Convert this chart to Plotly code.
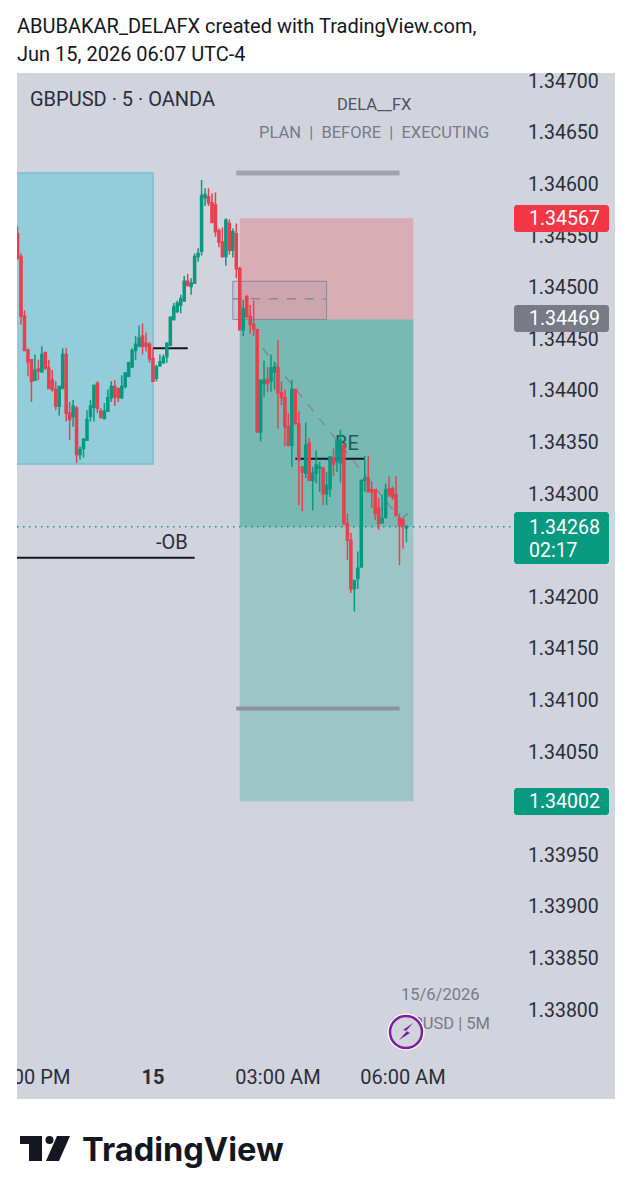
import pandas as pd
import plotly.graph_objects as go

# GBPUSD 5 minute candles, session of 14-15 June 2026
times = pd.date_range("2026-06-14 20:45", periods=113, freq="5min")

opens = [
    1.34552, 1.34530, 1.34472, 1.34439, 1.34430, 1.34410, 1.34421, 1.34418, 1.34437, 1.34422,
    1.34410, 1.34401, 1.34385, 1.34402, 1.34435, 1.34378, 1.34375, 1.34383, 1.34338, 1.34344,
    1.34352, 1.34375, 1.34384, 1.34407, 1.34380, 1.34373, 1.34380, 1.34393, 1.34404, 1.34402,
    1.34393, 1.34404, 1.34414, 1.34423, 1.34439, 1.34443, 1.34453, 1.34446, 1.34445, 1.34431,
    1.34412, 1.34424, 1.34427, 1.34433, 1.34444, 1.34469, 1.34477, 1.34483, 1.34487, 1.34506,
    1.34501, 1.34504, 1.34530, 1.34535, 1.34587, 1.34588, 1.34582, 1.34580, 1.34555, 1.34544,
    1.34530, 1.34562, 1.34536, 1.34552, 1.34518, 1.34459, 1.34491, 1.34472, 1.34464, 1.34459,
    1.34360, 1.34407, 1.34411, 1.34409, 1.34418, 1.34422, 1.34398, 1.34393, 1.34365, 1.34347,
    1.34401, 1.34368, 1.34326, 1.34320, 1.34349, 1.34313, 1.34320, 1.34325, 1.34325, 1.34300,
    1.34305, 1.34334, 1.34331, 1.34330, 1.34347, 1.34271, 1.34255, 1.34208, 1.34218, 1.34229,
    1.34313, 1.34315, 1.34304, 1.34304, 1.34286, 1.34272, 1.34277, 1.34305, 1.34305, 1.34299,
    1.34276, 1.34275, 1.34267,
]
highs = [
    1.34559, 1.34533, 1.34478, 1.34441, 1.34430, 1.34435, 1.34430, 1.34443, 1.34437, 1.34430,
    1.34420, 1.34409, 1.34405, 1.34441, 1.34441, 1.34389, 1.34391, 1.34385, 1.34346, 1.34354,
    1.34381, 1.34391, 1.34406, 1.34409, 1.34383, 1.34388, 1.34401, 1.34409, 1.34410, 1.34402,
    1.34415, 1.34418, 1.34428, 1.34441, 1.34453, 1.34463, 1.34465, 1.34456, 1.34447, 1.34441,
    1.34425, 1.34435, 1.34435, 1.34447, 1.34472, 1.34485, 1.34487, 1.34493, 1.34511, 1.34513,
    1.34509, 1.34533, 1.34538, 1.34604, 1.34596, 1.34596, 1.34591, 1.34592, 1.34557, 1.34558,
    1.34567, 1.34566, 1.34557, 1.34562, 1.34520, 1.34488, 1.34493, 1.34483, 1.34487, 1.34460,
    1.34410, 1.34429, 1.34423, 1.34435, 1.34428, 1.34449, 1.34409, 1.34401, 1.34378, 1.34410,
    1.34401, 1.34380, 1.34326, 1.34369, 1.34354, 1.34326, 1.34342, 1.34331, 1.34326, 1.34321,
    1.34336, 1.34344, 1.34352, 1.34362, 1.34349, 1.34281, 1.34262, 1.34216, 1.34244, 1.34314,
    1.34337, 1.34337, 1.34312, 1.34304, 1.34296, 1.34299, 1.34310, 1.34317, 1.34307, 1.34317,
    1.34281, 1.34276, 1.34270,
]
lows = [
    1.34527, 1.34464, 1.34439, 1.34414, 1.34389, 1.34410, 1.34410, 1.34418, 1.34420, 1.34402,
    1.34399, 1.34381, 1.34376, 1.34402, 1.34370, 1.34352, 1.34365, 1.34330, 1.34333, 1.34335,
    1.34352, 1.34370, 1.34370, 1.34378, 1.34373, 1.34372, 1.34380, 1.34389, 1.34385, 1.34389,
    1.34392, 1.34402, 1.34413, 1.34422, 1.34430, 1.34443, 1.34435, 1.34438, 1.34427, 1.34409,
    1.34409, 1.34423, 1.34426, 1.34427, 1.34444, 1.34468, 1.34475, 1.34475, 1.34486, 1.34501,
    1.34493, 1.34504, 1.34525, 1.34531, 1.34579, 1.34579, 1.34563, 1.34549, 1.34539, 1.34529,
    1.34521, 1.34532, 1.34529, 1.34509, 1.34459, 1.34453, 1.34470, 1.34455, 1.34453, 1.34359,
    1.34351, 1.34394, 1.34399, 1.34399, 1.34401, 1.34363, 1.34386, 1.34346, 1.34346, 1.34326,
    1.34368, 1.34289, 1.34283, 1.34315, 1.34313, 1.34284, 1.34310, 1.34302, 1.34289, 1.34289,
    1.34297, 1.34317, 1.34321, 1.34311, 1.34270, 1.34236, 1.34204, 1.34186, 1.34208, 1.34229,
    1.34302, 1.34302, 1.34286, 1.34275, 1.34265, 1.34271, 1.34276, 1.34297, 1.34294, 1.34278,
    1.34231, 1.34247, 1.34253,
]
closes = [
    1.34528, 1.34472, 1.34439, 1.34428, 1.34409, 1.34420, 1.34419, 1.34435, 1.34422, 1.34402,
    1.34401, 1.34385, 1.34404, 1.34435, 1.34378, 1.34372, 1.34385, 1.34338, 1.34343, 1.34353,
    1.34372, 1.34385, 1.34405, 1.34383, 1.34374, 1.34380, 1.34393, 1.34404, 1.34394, 1.34393,
    1.34404, 1.34417, 1.34427, 1.34439, 1.34445, 1.34451, 1.34443, 1.34443, 1.34431, 1.34409,
    1.34423, 1.34428, 1.34432, 1.34446, 1.34471, 1.34481, 1.34485, 1.34489, 1.34506, 1.34502,
    1.34504, 1.34530, 1.34533, 1.34589, 1.34590, 1.34582, 1.34563, 1.34554, 1.34544, 1.34530,
    1.34565, 1.34536, 1.34554, 1.34518, 1.34459, 1.34479, 1.34472, 1.34464, 1.34460, 1.34360,
    1.34410, 1.34410, 1.34407, 1.34422, 1.34423, 1.34398, 1.34393, 1.34365, 1.34347, 1.34401,
    1.34368, 1.34333, 1.34321, 1.34347, 1.34313, 1.34320, 1.34328, 1.34326, 1.34300, 1.34308,
    1.34336, 1.34329, 1.34352, 1.34352, 1.34271, 1.34255, 1.34208, 1.34216, 1.34228, 1.34313,
    1.34315, 1.34302, 1.34302, 1.34281, 1.34271, 1.34276, 1.34304, 1.34299, 1.34297, 1.34279,
    1.34269, 1.34269, 1.34268,
]

# Time axis labels
time_ticks = ["2026-06-14 21:00", "2026-06-15 00:00", "2026-06-15 03:00", "2026-06-15 06:00"]
time_labels = ["09:00 PM", "<b>15</b>", "03:00 AM", "06:00 AM"]

# Key price levels of the short position
last_price = 1.34268
stop_price = 1.34567
entry_price = 1.34469
target_price = 1.34002

# Page layout in pixels
W, H = 632, 1199
PLOT_L, PLOT_R, PLOT_T, PLOT_B = 17, 514, 73, 1055
FRAME_R, FRAME_B = 615, 1099
BG = "#d1d4dc"
RED = "#e8404f"
GREEN = "#089981"
FONT = "Roboto"


def px(x):
    return (x - PLOT_L) / (PLOT_R - PLOT_L)


def py(y):
    return (PLOT_B - y) / (PLOT_B - PLOT_T)


def pixel_path(points, close=True):
    cmds = [f"{'M' if i == 0 else 'L'}{px(x):.5f},{py(y):.5f}" for i, (x, y) in enumerate(points)]
    return " ".join(cmds) + (" Z" if close else "")


def data_rect(x0, x1, y0, y1, fill, line_color=None, line_width=0, layer="below"):
    return dict(type="rect", xref="x", yref="y", x0=x0, x1=x1, y0=y0, y1=y1, fillcolor=fill,
                line=dict(color=line_color or "rgba(0,0,0,0)", width=line_width), layer=layer)


def data_line(x0, x1, y0, y1, color, width, dash="solid", layer="below"):
    return dict(type="line", xref="x", yref="y", x0=x0, x1=x1, y0=y0, y1=y1,
                line=dict(color=color, width=width, dash=dash), layer=layer)


def pixel_rect(x0, x1, y0, y1, fill, layer="above"):
    return dict(type="rect", xref="paper", yref="paper", x0=px(x0), x1=px(x1), y0=py(y0), y1=py(y1),
                fillcolor=fill, line=dict(width=0), layer=layer)


def price_tag(y0, y1, fill):
    r = 2
    x0, x1 = 514, 609
    points = [(x0 + r, y0), (x1 - r, y0), (x1, y0 + r), (x1, y1 - r), (x1 - r, y1), (x0 + r, y1),
              (x0, y1 - r), (x0, y0 + r)]
    return dict(type="path", xref="paper", yref="paper", path=pixel_path(points), fillcolor=fill,
                line=dict(width=0), layer="above")


def text(x, y, s, size, color, anchor="left", weight=None, family=FONT):
    return dict(xref="paper", yref="paper", x=px(x), y=py(y), text=s, showarrow=False, xanchor=anchor,
                yanchor="middle", align=anchor, borderpad=0,
                font=dict(family=family, size=size, color=color, weight=weight))


d = "2026-06-15 "
shapes = [
    # Chart frame
    pixel_rect(17, FRAME_R, 73, FRAME_B, BG, layer="below"),
    # Order block zone
    data_rect("2026-06-14 19:00", "2026-06-15 00:00", 1.34329, 1.34611, "#94cdda", "#85c3d2", 2),
    # Short position: stop, target and the filled part of the target
    data_rect(d + "02:05", d + "06:15", entry_price, stop_price, "rgba(242,54,69,0.25)"),
    data_rect(d + "02:05", d + "06:15", target_price, entry_price, "rgba(8,153,129,0.25)"),
    data_rect(d + "02:05", d + "06:15", last_price, entry_price, "rgba(8,153,129,0.25)"),
    # Range bars above and below the position
    data_line(d + "02:00", d + "05:55", 1.34611, 1.34611, "#a0a3ad", 5),
    data_line(d + "02:00", d + "05:55", 1.34092, 1.34092, "#8f929c", 4),
    # Retest box with its midline
    data_rect(d + "01:55", d + "04:10", 1.34469, 1.34506, "rgba(120,123,134,0.14)", "#888b95", 1),
    data_line(d + "01:55", d + "04:10", 1.34489, 1.34489, "#888b95", 1.5, "dash"),
    # Projected path
    data_line(d + "02:38", d + "05:57", 1.34441, 1.34275, "#7f8a8e", 1.5, "dash"),
    data_line(d + "05:57", d + "06:07", 1.34275, 1.34281, "#7f8a8e", 1.5, "dash"),
    # Last price line
    dict(type="line", xref="paper", yref="y", x0=0, x1=1, y0=last_price, y1=last_price,
         line=dict(color=GREEN, width=1.5, dash="1.5px,4.5px"), layer="below"),
    # Structure levels
    data_line(d + "00:00", d + "00:50", 1.34441, 1.34441, "#131722", 2),
    data_line("2026-06-14 19:00", d + "01:00", 1.34238, 1.34238, "#131722", 2),
    data_line(d + "03:25", d + "05:05", 1.34334, 1.34334, "#131722", 2),
    # The BE text sits behind the candles
    dict(type="rect", xref="paper", yref="paper", x0=px(322), x1=px(372), y0=py(431), y1=py(453),
         line=dict(width=0), fillcolor="rgba(0,0,0,0)", layer="below",
         label=dict(text="BE", font=dict(family=FONT, size=20, color="#2a2e39"),
                    textposition="middle center")),
    # Strip left of the frame keeps the clipped time label tidy
    pixel_rect(0, 17, 1058, 1096, "#ffffff"),
    # Price tags
    price_tag(205, 232, "#f23645"),
    price_tag(305, 332, "#787b86"),
    price_tag(512, 564, GREEN),
    price_tag(788, 815, GREEN),
    # Caption tucked under the badge
    dict(type="rect", xref="paper", yref="paper", x0=px(386), x1=px(496), y0=py(1011), y1=py(1033),
         line=dict(width=0), fillcolor="rgba(0,0,0,0)", layer="above",
         label=dict(text="GBPUSD | 5M", font=dict(family=FONT, size=16.5, color="#787b86"),
                    textposition="middle right")),
    # Badge
    dict(type="circle", xref="paper", yref="paper", x0=px(387.5), x1=px(424.5), y0=py(1013.5),
         y1=py(1050.5), fillcolor="#ffffff", line=dict(width=0), layer="above"),
    dict(type="circle", xref="paper", yref="paper", x0=px(390), x1=px(422), y0=py(1016), y1=py(1048),
         fillcolor=BG, line=dict(color="#7b1fa2", width=2.5), layer="above"),
    dict(type="path", xref="paper", yref="paper", layer="above", fillcolor="#7b1fa2", line=dict(width=0),
         path=pixel_path([(413, 1023), (403, 1030), (407, 1031), (399, 1040), (410, 1033), (406, 1031)])),
    # Footer mark
    dict(type="path", xref="paper", yref="paper", layer="above", fillcolor="#131722", line=dict(width=0),
         path=pixel_path([(20, 1136), (42, 1136), (42, 1161), (29, 1161), (29, 1144), (20, 1144)])),
    dict(type="circle", xref="paper", yref="paper", x0=px(45.5), x1=px(53.5), y0=py(1136), y1=py(1144),
         fillcolor="#131722", line=dict(width=0), layer="above"),
    dict(type="path", xref="paper", yref="paper", layer="above", fillcolor="#131722", line=dict(width=0),
         path=pixel_path([(57, 1136), (70, 1136), (59, 1161), (46, 1161)])),
]

annotations = [
    text(16, 26, "ABUBAKAR_DELAFX created with TradingView.com,", 20, "#131722"),
    text(16, 54, "Jun 15, 2026 06:07 UTC-4", 20, "#131722"),
    text(29, 99, "GBPUSD · 5 · OANDA", 20, "#2a2e39"),
    text(374, 104, "DELA__FX", 16.5, "#50535e", "center"),
    text(374, 132, "PLAN  |  BEFORE  |  EXECUTING", 16.5, "#787b86", "center"),
    text(171.5, 542, "-OB", 20, "#2a2e39", "center"),
    text(440, 994, "15/6/2026", 16.5, "#787b86", "center"),
    text(528, 218.5, f"{stop_price:.5f}", 19.5, "#ffffff"),
    text(528, 318.5, f"{entry_price:.5f}", 19.5, "#ffffff"),
    text(528, 527, f"{last_price:.5f}", 19.5, "#ffffff"),
    text(528, 550, "02:17", 19.5, "#ffffff"),
    text(528, 801, f"{target_price:.5f}", 19.5, "#ffffff"),
    text(80.5, 1149, "TradingView", 32.6, "#131722", weight=700, family="Inter"),
]

fig = go.Figure(
    go.Candlestick(
        x=times, open=opens, high=highs, low=lows, close=closes,
        whiskerwidth=0,
        increasing=dict(line=dict(color=GREEN, width=1.5), fillcolor=GREEN),
        decreasing=dict(line=dict(color=RED, width=1.5), fillcolor=RED),
        hoverinfo="skip",
    )
)

fig.update_layout(
    width=W, height=H, autosize=False,
    margin=dict(l=PLOT_L, r=W - PLOT_R, t=PLOT_T, b=H - PLOT_B, pad=0),
    paper_bgcolor="#ffffff", plot_bgcolor="rgba(0,0,0,0)",
    showlegend=False, boxgap=0.15,
    font=dict(family=FONT, color="#2a2e39", size=19),
    shapes=shapes, annotations=annotations,
    xaxis=dict(
        type="date", range=["2026-06-14 20:44:12", "2026-06-15 08:39:54"],
        rangeslider=dict(visible=False), showgrid=False, zeroline=False, showline=False,
        tickmode="array", tickvals=time_ticks, ticktext=time_labels,
        ticks="outside", ticklen=4, tickcolor="rgba(0,0,0,0)", ticklabeloverflow="allow",
        tickfont=dict(family=FONT, size=20, color="#2a2e39"), automargin=False,
    ),
    yaxis=dict(
        side="right", range=[1.337562, 1.347078], showgrid=False, zeroline=False, showline=False,
        tick0=1.34, dtick=0.0005, tickformat=".5f",
        ticks="outside", ticklen=9, tickcolor="rgba(0,0,0,0)",
        tickfont=dict(family=FONT, size=19.5, color="#2a2e39"), automargin=False,
    ),
)

fig.write_html("out.html")
